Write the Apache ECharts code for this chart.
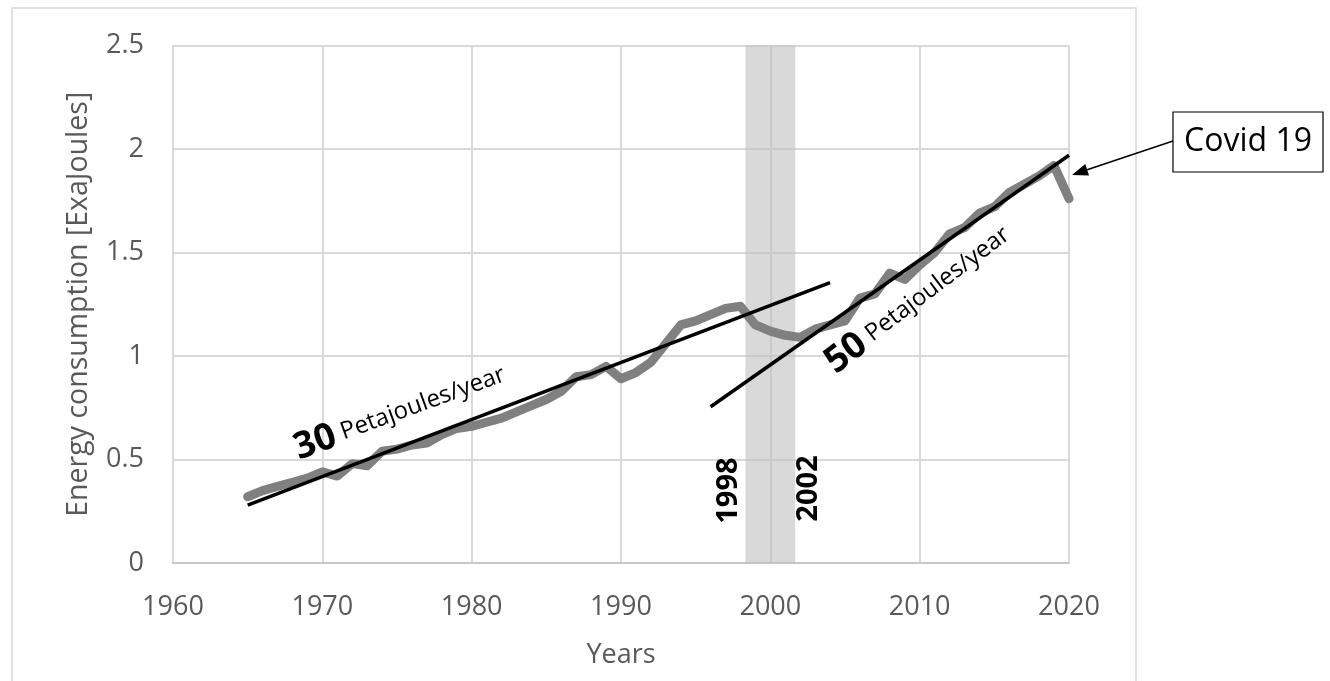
<!DOCTYPE html>
<html>
<head>
<meta charset="utf-8">
<script src="https://cdn.jsdelivr.net/npm/echarts@6/dist/echarts.min.js"></script>
<style>
  html, body { margin: 0; padding: 0; background: #fff; }
  #chart { width: 1330px; height: 681px; }
</style>
</head>
<body>
<div id="chart"></div>
<script>
// yearly energy consumption, ExaJoules
const years = [1965, 1966, 1967, 1968, 1969, 1970, 1971, 1972, 1973, 1974, 1975, 1976, 1977, 1978, 1979,
  1980, 1981, 1982, 1983, 1984, 1985, 1986, 1987, 1988, 1989, 1990, 1991, 1992, 1993, 1994, 1995, 1996,
  1997, 1998, 1999, 2000, 2001, 2002, 2003, 2004, 2005, 2006, 2007, 2008, 2009, 2010, 2011, 2012, 2013,
  2014, 2015, 2016, 2017, 2018, 2019, 2020]
const consumption = [0.32, 0.35, 0.37, 0.39, 0.41, 0.44, 0.42, 0.48, 0.47, 0.54, 0.55, 0.57, 0.58, 0.62, 0.65,
  0.66, 0.68, 0.70, 0.73, 0.76, 0.79, 0.83, 0.90, 0.91, 0.95, 0.89, 0.92, 0.97, 1.06, 1.15, 1.17, 1.20,
  1.23, 1.24, 1.15, 1.12, 1.10, 1.09, 1.13, 1.15, 1.17, 1.28, 1.30, 1.40, 1.37, 1.44, 1.50, 1.59, 1.62,
  1.69, 1.72, 1.79, 1.83, 1.87, 1.92, 1.76]

// trend lines (start / end)
const trend30 = [[1965, 0.28], [2004, 1.355]]
const trend50 = [[1996, 0.755], [2020, 1.97]]

// shaded period
const band = [1998.33, 2001.67]

const xTicks = { min: 1960, max: 2020, step: 10 }
const yTicks = { min: 0, max: 2.5, step: 0.5 }

const FONT = 'Open Sans'
const GREY = '#595959'

const chart = echarts.init(document.getElementById('chart'))

const option = {
  animation: false,
  grid: { left: 173, right: 261, top: 45.5, bottom: 118 },
  xAxis: {
    type: 'value',
    min: xTicks.min,
    max: xTicks.max,
    interval: xTicks.step,
    name: 'Years',
    nameLocation: 'middle',
    nameGap: 79,
    nameTextStyle: { color: GREY, fontSize: 27, fontFamily: FONT },
    axisLine: { show: true, lineStyle: { color: '#c8c8c8', width: 2 } },
    axisTick: { show: false },
    axisLabel: { color: GREY, fontSize: 27, fontFamily: FONT, margin: 31, formatter: v => String(v) },
    splitLine: { show: true, lineStyle: { color: '#d9d9d9', width: 2 } }
  },
  yAxis: {
    type: 'value',
    min: yTicks.min,
    max: yTicks.max,
    interval: yTicks.step,
    name: 'Energy consumption [ExaJoules]',
    nameLocation: 'middle',
    nameGap: 80,
    nameTextStyle: { color: GREY, fontSize: 28.5, fontFamily: FONT },
    axisLine: { show: true, lineStyle: { color: '#d9d9d9', width: 2 } },
    axisTick: { show: false },
    axisLabel: { color: GREY, fontSize: 27, fontFamily: FONT, margin: 29 },
    splitLine: { show: true, lineStyle: { color: '#d9d9d9', width: 2 } }
  },
  series: [
    {
      name: 'consumption',
      type: 'line',
      data: years.map((y, i) => [y, consumption[i]]),
      symbol: 'none',
      lineStyle: { color: '#808080', width: 9, join: 'round', cap: 'round' },
      markArea: {
        silent: true,
        itemStyle: { color: 'rgba(191,191,191,0.6)' },
        data: [[{ xAxis: band[0] }, { xAxis: band[1] }]]
      },
      z: 2
    },
    {
      name: 'trend 30',
      type: 'line',
      data: trend30,
      symbol: 'none',
      lineStyle: { color: '#000', width: 3.5 },
      z: 3
    },
    {
      name: 'trend 50',
      type: 'line',
      data: trend50,
      symbol: 'none',
      lineStyle: { color: '#000', width: 3.5 },
      z: 3
    }
  ]
}

chart.setOption(option)

// text notes anchored in data units
const notes = [
  { at: [1975.2, 0.73], angle: 20, text: '{big|30}  {small|Petajoules/year}' },
  { at: [2009.9, 1.275], angle: 37, text: '{big|50}  {small|Petajoules/year}' },
  { at: [1997.2, 0.35], angle: 90, text: '{yr|1998}' },
  { at: [2002.6, 0.36], angle: 90, text: '{yr|2002}' }
]

const rich = {
  big: { fontSize: 37, fontWeight: 'bold', fontFamily: FONT, fill: '#000' },
  small: { fontSize: 24, fontFamily: FONT, fill: '#000' },
  yr: { fontSize: 29, fontWeight: 'bold', fontFamily: FONT, fill: '#000' }
}

const graphic = []

// outer chart border
graphic.push({
  type: 'rect',
  shape: { x: 12, y: 8, width: 1124, height: 700 },
  style: { fill: 'none', stroke: '#d9d9d9', lineWidth: 1.5 },
  silent: true
})

notes.forEach(n => {
  const p = chart.convertToPixel({ gridIndex: 0 }, n.at)
  graphic.push({
    type: 'text',
    x: p[0],
    y: p[1],
    rotation: n.angle * Math.PI / 180,
    style: { text: n.text, rich: rich, align: 'center', verticalAlign: 'middle', fill: '#000' },
    z: 10
  })
})

// Covid 19 callout
const covidTip = chart.convertToPixel({ gridIndex: 0 }, [2020.2, 1.875])
const boxX = 1173, boxY = 112, boxW = 150, boxH = 60
const start = [boxX, boxY + 29]
const ang = Math.atan2(start[1] - covidTip[1], start[0] - covidTip[0])
const headLen = 16, headW = 6
const base = [covidTip[0] + headLen * Math.cos(ang), covidTip[1] + headLen * Math.sin(ang)]
const nx = -Math.sin(ang), ny = Math.cos(ang)

graphic.push(
  {
    type: 'line',
    shape: { x1: start[0], y1: start[1], x2: base[0], y2: base[1] },
    style: { stroke: '#000', lineWidth: 1.5 },
    z: 10
  },
  {
    type: 'polygon',
    shape: { points: [covidTip, [base[0] + nx * headW, base[1] + ny * headW], [base[0] - nx * headW, base[1] - ny * headW]] },
    style: { fill: '#000' },
    z: 10
  },
  {
    type: 'rect',
    shape: { x: boxX, y: boxY, width: boxW, height: boxH },
    style: { fill: '#fff', stroke: '#000', lineWidth: 1.2 },
    z: 10
  },
  {
    type: 'text',
    x: boxX + boxW / 2,
    y: boxY + boxH / 2,
    style: { text: 'Covid 19', fontSize: 32, fontFamily: FONT, fill: '#000', align: 'center', verticalAlign: 'middle' },
    z: 11
  }
)

chart.setOption({ graphic: graphic })
</script>
</body>
</html>
